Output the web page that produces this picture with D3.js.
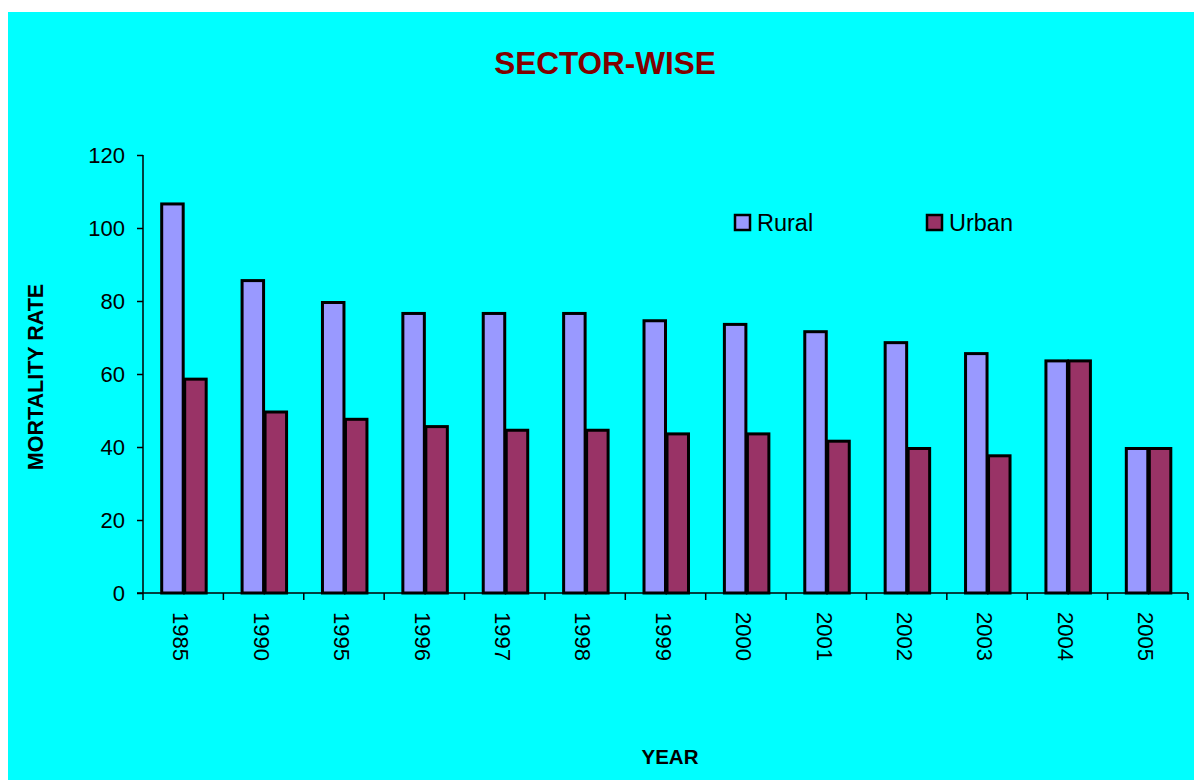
<!DOCTYPE html>
<html>
<head>
<meta charset="utf-8">
<script src="https://cdn.jsdelivr.net/npm/d3@7"></script>
<style>
  html, body { margin: 0; padding: 0; background: #fff; }
  svg { display: block; font-family: Arial, "Liberation Sans", sans-serif; }
</style>
</head>
<body>
<svg id="chart"></svg>
<script>
// data
var years = ["1985","1990","1995","1996","1997","1998","1999","2000","2001","2002","2003","2004","2005"];
var rural = [107, 86, 80, 77, 77, 77, 75, 74, 72, 69, 66, 64, 40];
var urban = [59, 50, 48, 46, 45, 45, 44, 44, 42, 40, 38, 64, 40];
var seriesNames = ["Rural", "Urban"];
var seriesColors = ["#9999FF", "#993366"];
var yTicks = [0, 20, 40, 60, 80, 100, 120];

var W = 1194, H = 780;
var svg = d3.select("#chart").attr("width", W).attr("height", H);

// cyan plot area
svg.append("rect").attr("x", 8).attr("y", 12).attr("width", W - 8).attr("height", H - 12).attr("fill", "#00FFFF");

var plotLeft = 143, plotRight = 1188, plotTop = 155, plotBottom = 593;

var x = d3.scaleBand().domain(years).range([plotLeft, plotRight]).paddingInner(0.428).paddingOuter(0.214);
var xs = d3.scaleBand().domain(seriesNames).range([0, x.bandwidth()]);
var y = d3.scaleLinear().domain([0, 120]).range([plotBottom, plotTop]);

var table = years.map(function (yr, i) {
  return { year: yr, values: [rural[i], urban[i]] };
});

// bars
var groups = svg.append("g").selectAll("g").data(table).enter().append("g")
  .attr("transform", function (d) { return "translate(" + x(d.year) + ",0)"; });
groups.selectAll("rect").data(function (d) { return d.values; }).enter().append("rect")
  .attr("x", function (d, i) { return xs(seriesNames[i]) + 1.5; })
  .attr("y", function (d) { return y(d) + 1.5; })
  .attr("width", xs.bandwidth() - 1.5)
  .attr("height", function (d) { return plotBottom - y(d) - 1.5; })
  .attr("fill", function (d, i) { return seriesColors[i]; })
  .attr("stroke", "#000")
  .attr("stroke-width", 3);

// y axis
var yAxis = svg.append("g").attr("transform", "translate(" + plotLeft + ",0)")
  .call(d3.axisLeft(y).tickValues(yTicks).tickSize(6).tickPadding(12));
yAxis.select(".domain").attr("stroke", "#000").attr("stroke-width", 1.5).attr("d", "M0," + plotTop + "V" + plotBottom);
yAxis.selectAll("line").attr("stroke", "#000").attr("stroke-width", 1.5);
yAxis.selectAll("text").attr("font-size", 22).attr("fill", "#000").attr("font-family", "Arial, 'Liberation Sans', sans-serif");

// x axis: ticks between categories
var xAxis = svg.append("g").attr("transform", "translate(0," + plotBottom + ")");
xAxis.append("line").attr("x1", plotLeft - 6).attr("x2", plotRight).attr("y1", 0).attr("y2", 0)
  .attr("stroke", "#000").attr("stroke-width", 1.5);
var bounds = years.map(function (d) { return x(d) - x.step() * x.paddingOuter(); });
bounds.push(plotRight);
xAxis.selectAll("line.tick").data(bounds).enter().append("line").attr("class", "tick")
  .attr("x1", function (d) { return d; }).attr("x2", function (d) { return d; })
  .attr("y1", 0).attr("y2", 7).attr("stroke", "#000").attr("stroke-width", 1.5);
xAxis.selectAll("text").data(years).enter().append("text")
  .attr("transform", function (d) { return "translate(" + (x(d) + x.bandwidth() / 2 - 2) + ",19) rotate(90)"; })
  .attr("dy", "0.35em")
  .attr("font-size", 22)
  .text(function (d) { return d; });

// title and axis titles
svg.append("text").attr("x", 605).attr("y", 74).attr("text-anchor", "middle")
  .attr("font-size", 31.5).attr("font-weight", "bold").attr("fill", "#800000").text("SECTOR-WISE");
svg.append("text").attr("x", 670).attr("y", 764).attr("text-anchor", "middle")
  .attr("font-size", 20.5).attr("font-weight", "bold").text("YEAR");
svg.append("text").attr("transform", "translate(43,377) rotate(-90)").attr("text-anchor", "middle")
  .attr("font-size", 21.5).attr("font-weight", "bold").text("MORTALITY RATE");

// legend
var legendX = [734, 926];
var legend = svg.append("g").selectAll("g").data(seriesNames).enter().append("g")
  .attr("transform", function (d, i) { return "translate(" + legendX[i] + ",214)"; });
legend.append("rect").attr("x", 1).attr("y", 1).attr("width", 15).attr("height", 15)
  .attr("fill", function (d, i) { return seriesColors[i]; }).attr("stroke", "#000").attr("stroke-width", 2.5);
legend.append("text").attr("x", 23).attr("y", 17).attr("font-size", 23.5).text(function (d) { return d; });
</script>
</body>
</html>
